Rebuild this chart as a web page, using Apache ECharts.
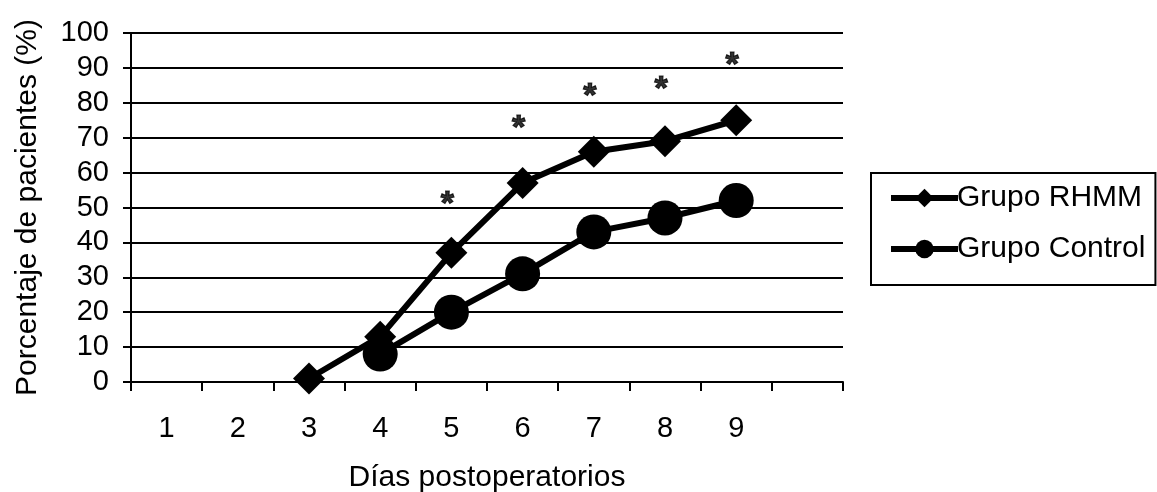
<!DOCTYPE html>
<html>
<head>
<meta charset="utf-8">
<script src="https://cdn.jsdelivr.net/npm/echarts@6/dist/echarts.min.js"></script>
<style>html,body{margin:0;padding:0;background:#fff}#c{width:1157px;height:492px}</style>
</head>
<body>
<div id="c"></div>
<script>
var categories = ['1','2','3','4','5','6','7','8','9',''];
var rhmm = [null, null, 1, 13, 37, 57, 66, 69, 75, null];
var control = [null, null, null, 8, 20, 31, 43, 47, 52, null];
var asterisks = [null, null, null, null, 53, 75, 84, 86, 93, null];
var yTicks = [0, 10, 20, 30, 40, 50, 60, 70, 80, 90, 100];

var FONT = '"Liberation Sans", Arial, sans-serif';
var chart = echarts.init(document.getElementById('c'), null, {renderer: 'canvas'});
chart.setOption({
  animation: false,
  backgroundColor: '#fff',
  textStyle: {fontFamily: FONT, color: '#000'},
  grid: {left: 131, right: 314, top: 33, bottom: 110, containLabel: false, outerBoundsMode: 'none'},
  legend: {
    orient: 'vertical',
    left: 871, top: 173,
    data: ['Grupo RHMM', 'Grupo Control'],
    itemWidth: 67, itemHeight: 23, itemGap: 21,
    padding: [10, 10, 21, 17],
    borderColor: '#000', borderWidth: 2,
    lineStyle: {width: 6, color: '#000'},
    itemStyle: {color: '#000'},
    textStyle: {fontFamily: FONT, fontSize: 30, color: '#000', padding: [0, 0, 0, -6]}
  },
  xAxis: {
    type: 'category',
    data: categories,
    boundaryGap: true,
    name: 'Días postoperatorios',
    nameLocation: 'middle',
    nameGap: 81,
    nameTextStyle: {fontFamily: FONT, fontSize: 30, color: '#000'},
    axisLine: {lineStyle: {color: '#000', width: 2}},
    axisTick: {show: true, length: 9, lineStyle: {color: '#000', width: 2}},
    axisLabel: {fontFamily: FONT, fontSize: 29, color: '#000', margin: 32, interval: 0},
    splitLine: {show: false}
  },
  yAxis: {
    type: 'value',
    min: yTicks[0], max: yTicks[yTicks.length - 1], interval: 10,
    name: 'Porcentaje de pacientes (%)',
    nameLocation: 'middle',
    nameGap: 88,
    nameTextStyle: {fontFamily: FONT, fontSize: 30, color: '#000'},
    axisLine: {show: true, lineStyle: {color: '#000', width: 2}},
    axisTick: {show: true, length: 8, lineStyle: {color: '#000', width: 2}},
    axisLabel: {fontFamily: FONT, fontSize: 29, color: '#000', margin: 22},
    splitLine: {show: true, lineStyle: {color: '#000', width: 2}}
  },
  series: [
    {
      name: 'Grupo RHMM', type: 'line', data: rhmm,
      symbol: 'diamond', symbolSize: 32,
      lineStyle: {color: '#000', width: 6},
      itemStyle: {color: '#000'},
      connectNulls: false, z: 3
    },
    {
      name: 'Grupo Control', type: 'line', data: control,
      symbol: 'circle', symbolSize: 35,
      lineStyle: {color: '#000', width: 6},
      itemStyle: {color: '#000'},
      connectNulls: false, z: 4
    },
    {
      name: 'sig', type: 'scatter', data: asterisks,
      symbol: 'circle', symbolSize: 1,
      itemStyle: {color: 'rgba(0,0,0,0)'},
      label: {show: true, position: 'inside', formatter: '*', fontFamily: FONT,
              fontSize: 34, fontWeight: 'bold', color: '#000', offset: [-4, 8],
              textBorderColor: '#000', textBorderWidth: 1.2},
      z: 5, silent: true
    }
  ]
});
</script>
</body>
</html>
